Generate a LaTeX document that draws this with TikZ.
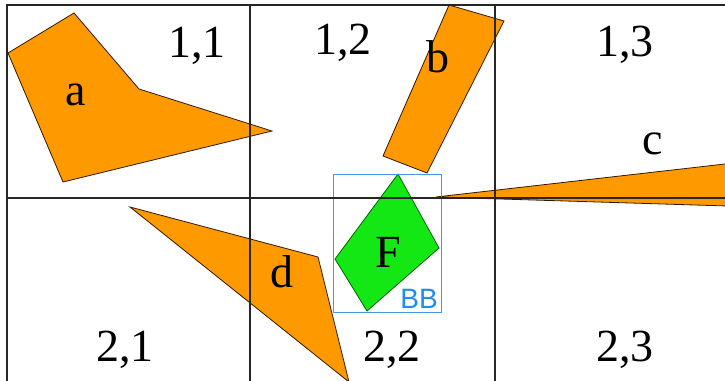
\documentclass[tikz,border=0pt]{standalone}
\usepackage{fontspec}
\setmainfont{Liberation Serif}
\setsansfont{Liberation Sans}
\begin{document}
\begin{tikzpicture}[x=1pt,y=-1pt,
  shp/.style={fill=orng,draw=black!80!orange,line width=0.8pt,line join=miter},
  grn/.style={fill=grnc,draw=black!60!green,line width=0.8pt},
  grid/.style={draw=black!85,line width=1.1pt},
  lbl/.style={font=\fontsize{46}{46}\selectfont,inner sep=0pt,anchor=center},
  bbl/.style={font=\sffamily\fontsize{28}{28}\selectfont,text=bbtext,inner sep=0pt}]
\definecolor{orng}{RGB}{255,153,0}
\definecolor{grnc}{RGB}{20,232,20}
\definecolor{bbbox}{RGB}{70,150,225}
\definecolor{bbtext}{RGB}{30,140,240}
\useasboundingbox[fill=white] (0,0) rectangle (725,380);
% shapes
\draw[shp] (8,53) -- (74,13) -- (139,89) -- (272,131) -- (63,182) -- cycle;
\draw[shp] (449,5) -- (504,21) -- (427,173) -- (383,156) -- cycle;
\draw[shp] (436,197) -- (760,160) -- (760,207) -- cycle;
\draw[shp] (130,207) -- (318,257) -- (349,382) -- cycle;
\draw[grn] (398,174) -- (439,248) -- (367,311) -- (335,259) -- cycle;
\draw[draw=bbbox,line width=0.9pt] (333,174) rectangle (441,312);
% grid
\draw[grid] (7,382) -- (7,5) -- (727,5);
\draw[grid] (250,5) -- (250,382);
\draw[grid] (495,5) -- (495,382);
\draw[grid] (7,198) -- (727,198);
% labels
\node[lbl] (l11) at (197,46) {1,1};
\node[lbl] (l12) at (343,43) {1,2};
\node[lbl] (l13) at (625,45) {1,3};
\node[lbl] (l21) at (125,350) {2,1};
\node[lbl] (l22) at (392,350) {2,2};
\node[lbl] (l23) at (625,350) {2,3};
\node[lbl] (la) at (76,95) {a};
\node[lbl] (lb) at (438,57) {b};
\node[lbl] (lc) at (653,144) {c};
\node[lbl] (ld) at (282,272) {d};
\node[lbl] (lF) at (388,252) {F};
\node[bbl] (lBB) at (419,299) {BB};
\end{tikzpicture}
\end{document}
